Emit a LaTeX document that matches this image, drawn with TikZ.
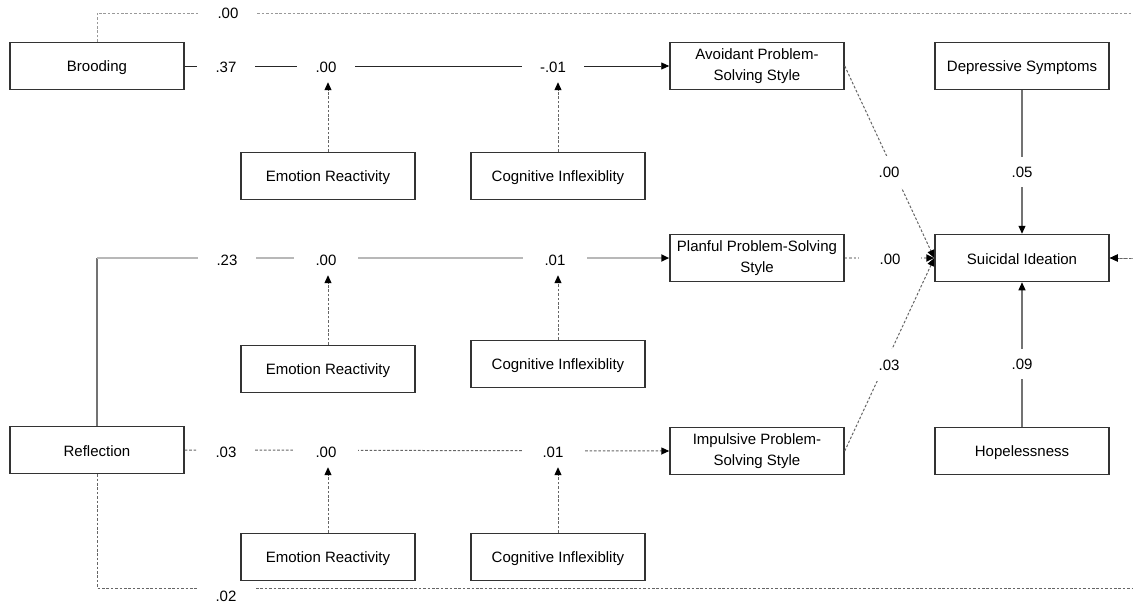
\documentclass[tikz,border=0pt]{standalone}
\usepackage{fontspec}
\setmainfont{Liberation Sans}
\usetikzlibrary{arrows.meta}
\begin{document}
\begin{tikzpicture}[x=1pt,y=-1pt,
  box/.style={draw=black!80, line width=1.5pt, minimum width=174pt, minimum height=47pt,
    align=center, inner sep=2pt, font=\fontsize{15}{21}\selectfont, fill=white,
    execute at begin node={\rule[-3pt]{0pt}{18pt}}},
  lbl/.style={fill=white, minimum width=58pt, minimum height=30pt, inner sep=0pt,
    font=\fontsize{15}{18}\selectfont},
  tip/.style={-{Triangle[length=8pt,width=7pt,color=black]}},
  solidpath/.style={draw=black!85, line width=0.9pt},
  lightpath/.style={draw=black!28, line width=2.4pt},
  dotpath/.style={draw=black!60, line width=1pt, dash pattern=on 2.6pt off 1.8pt},
  lightdot/.style={draw=black!40, line width=1pt, dash pattern=on 2.6pt off 1.8pt},
  planfuldot/.style={draw=black!30, line width=2pt, dash pattern=on 2.6pt off 1.8pt},
  greypath/.style={draw=black!55, line width=1.1pt}
]
\useasboundingbox (0,0) rectangle (1133,606);
\clip (0,0) rectangle (1133,606);

% boxes
\node[box] (brood) at (97,66) {Brooding};
\node[box] (avoid) at (757,66) {Avoidant Problem-\\Solving Style};
\node[box] (dep) at (1022,66) {Depressive Symptoms};
\node[box] (er1) at (328,176) {Emotion Reactivity};
\node[box] (ci1) at (558,176) {Cognitive Inflexiblity};
\node[box] (si) at (1022,258) {Suicidal Ideation};
\node[box] (plan) at (757,258) {Planful Problem-Solving\\Style};
\node[box] (er2) at (328,369) {Emotion Reactivity};
\node[box] (ci2) at (558,364) {Cognitive Inflexiblity};
\node[box] (refl) at (97,450) {Reflection};
\node[box] (imp) at (757,451) {Impulsive Problem-\\Solving Style};
\node[box] (hope) at (1022,451) {Hopelessness};
\node[box] (er3) at (328,557) {Emotion Reactivity};
\node[box] (ci3) at (558,557) {Cognitive Inflexiblity};

% outer loops
\coordinate (tr) at (1160,13);
\coordinate (br) at (1160,588);
\draw[lightdot, tip] (brood.north) |- (tr) |- (si.east);
\draw[dotpath, tip] (refl.south) |- (br) |- (si.east);

% main rows
\draw[solidpath, tip] (brood.east) -- (avoid.west);
\coordinate (rc) at (refl.north |- plan.west);
\draw[greypath] (refl.north) -- (rc);
\draw[lightpath, tip] (rc) -- (plan.west);
\draw[dotpath, tip] (refl.east) -- (imp.west);

% into suicidal ideation
\draw[dotpath, tip] (avoid.east) -- (si.west);
\draw[planfuldot, tip] (plan.east) -- (si.west);
\draw[dotpath, tip] (imp.east) -- (si.west);
\draw[greypath, tip] (dep.south) -- (si.north);
\draw[greypath, tip] (hope.north) -- (si.south);

% labels
\node[lbl] (ltop) at (228,13) {.00};
\node[lbl, minimum height=20pt] (lbot) at (226,596) {.02};
\node[lbl] (a1) at (226,67) {.37};
\node[lbl] (a2) at (326,67) {.00};
\node[lbl, minimum width=62pt] (a3) at (553,67) {-.01};
\node[lbl] (b1) at (227,260) {.23};
\node[lbl, minimum width=64pt] (b2) at (326,260) {.00};
\node[lbl, minimum width=64pt] (b3) at (555,260) {.01};
\node[lbl] (c1) at (226,452) {.03};
\node[lbl, minimum width=64pt] (c2) at (326,452) {.00};
\node[lbl, minimum width=62pt] (c3) at (553,452) {.01};
\node[lbl, minimum width=62pt] (d1) at (890,259) {.00};
\node[lbl, minimum width=44pt, minimum height=32pt] (d2) at (889,172) {.00};
\node[lbl, minimum width=44pt, minimum height=32pt] (d3) at (889,365) {.03};
\node[lbl, minimum width=44pt] (e1) at (1022,172) {.05};
\node[lbl, minimum width=44pt] (e2) at (1022,364) {.09};

% moderator arrows
\draw[dotpath, tip] (er1.north) -- (er1.north |- a2.south);
\draw[dotpath, tip] (ci1.north) -- (ci1.north |- a3.south);
\draw[dotpath, tip] (er2.north) -- (er2.north |- b2.south);
\draw[dotpath, tip] (ci2.north) -- (ci2.north |- b3.south);
\draw[dotpath, tip] (er3.north) -- (er3.north |- c2.south);
\draw[dotpath, tip] (ci3.north) -- (ci3.north |- c3.south);
\end{tikzpicture}
\end{document}
